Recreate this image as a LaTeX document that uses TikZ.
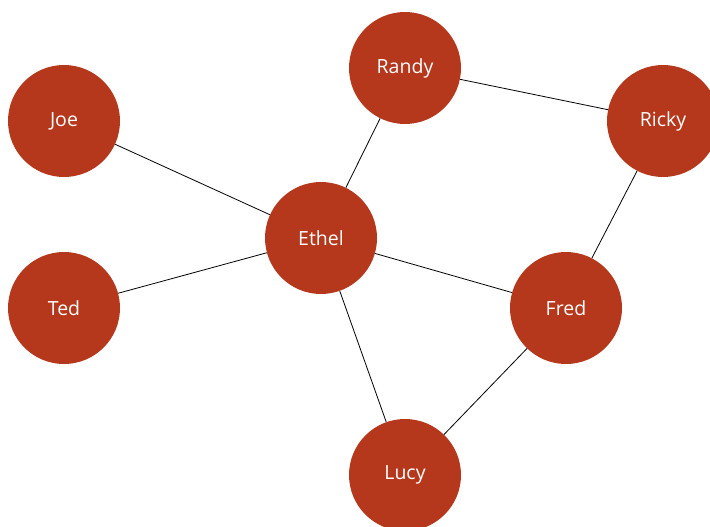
\documentclass[tikz,border=0pt]{standalone}
\usepackage{fontspec}
\setmainfont{Open Sans}
\definecolor{nodered}{HTML}{B5381C}
\begin{document}
\begin{tikzpicture}[x=1pt,y=-1pt,
  person/.style={circle,fill=nodered,draw=none,minimum size=112pt,inner sep=0pt,
    text=white,font=\fontsize{19.5}{22}\selectfont},
  link/.style={draw=black,line width=0.8pt}]
\useasboundingbox (0,0) rectangle (710,527);
\clip (0,0) rectangle (710,527);
\node[person] (joe)   at (64,121)  {Joe};
\node[person] (ted)   at (64,308)  {Ted};
\node[person] (randy) at (405,68)  {Randy};
\node[person] (ricky) at (663,121) {Ricky};
\node[person] (ethel) at (321,238) {Ethel};
\node[person] (fred)  at (566,308) {Fred};
\node[person] (lucy)  at (405,475) {Lucy};
\draw[link] (joe) -- (ethel);
\draw[link] (ted) -- (ethel);
\draw[link] (randy) -- (ethel);
\draw[link] (randy) -- (ricky);
\draw[link] (ricky) -- (fred);
\draw[link] (ethel) -- (fred);
\draw[link] (ethel) -- (lucy);
\draw[link] (fred) -- (lucy);
\end{tikzpicture}
\end{document}
